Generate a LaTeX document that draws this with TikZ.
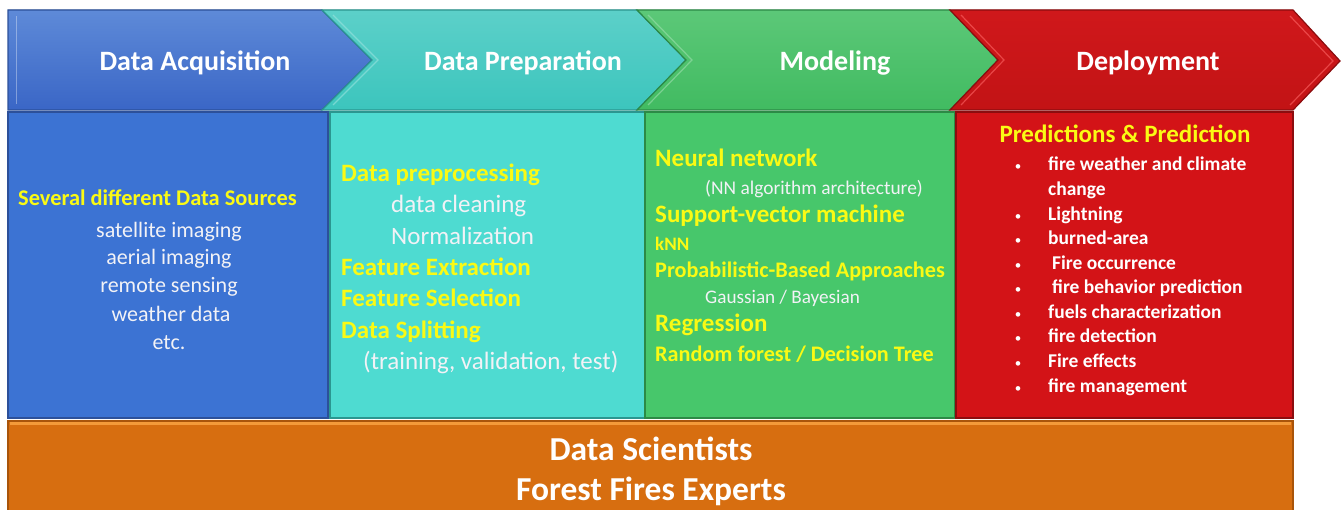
\documentclass[tikz,border=0pt]{standalone}
\usepackage{fontspec}
\setmainfont{Carlito}
\definecolor{blueTop}{HTML}{5E8AD8}
\definecolor{blueBot}{HTML}{3A66C6}
\definecolor{blueBox}{HTML}{3C73D3}
\definecolor{blueEdge}{HTML}{2C509A}
\definecolor{tealTop}{HTML}{5CD0C9}
\definecolor{tealBot}{HTML}{3CC5BD}
\definecolor{tealBox}{HTML}{4EDBD1}
\definecolor{tealEdge}{HTML}{2B9690}
\definecolor{greenTop}{HTML}{5CC878}
\definecolor{greenBot}{HTML}{41BB61}
\definecolor{greenBox}{HTML}{47C76B}
\definecolor{greenEdge}{HTML}{2C8A46}
\definecolor{redTop}{HTML}{D0181B}
\definecolor{redBot}{HTML}{C21315}
\definecolor{redBox}{HTML}{D31317}
\definecolor{redEdge}{HTML}{8C0D0F}
\definecolor{orangeBox}{HTML}{D76E10}
\definecolor{orangeEdge}{HTML}{A9540A}
\definecolor{orangeLight}{HTML}{F39A3A}
\definecolor{hiYellow}{HTML}{FAFA14}
\definecolor{softWhite}{HTML}{F2F2F6}
\tikzset{
  chevron/.style={line width=1.2pt, line join=miter},
  panel/.style={line width=1.2pt},
  title/.style={font=\bfseries\fontsize{28}{28}\selectfont, text=white, inner sep=0pt},
  ylw/.style={font=\bfseries, text=hiYellow, inner sep=0pt, anchor=mid west},
  wht/.style={text=softWhite, inner sep=0pt, anchor=mid west},
  bul/.style={font=\bfseries\fontsize{19.5}{19.5}\selectfont, text=white, inner sep=0pt, anchor=mid west},
  dotmark/.style={font=\fontsize{13}{13}\selectfont, text=white, inner sep=0pt},
  team/.style={font=\bfseries\fontsize{33.5}{33.5}\selectfont, text=white, inner sep=0pt}
}
\begin{document}
\begin{tikzpicture}[x=1pt,y=-1pt]
\useasboundingbox (0,0) rectangle (1342,510);

% process chevrons
\filldraw[chevron, draw=blueEdge, top color=blueTop, bottom color=blueBot]
  (8,10) -- (322,10) -- (372,60) -- (322,110) -- (8,110) -- cycle;
\filldraw[chevron, draw=tealEdge, top color=tealTop, bottom color=tealBot]
  (322,10) -- (637,10) -- (686,60) -- (637,110) -- (322,110) -- (372,60) -- cycle;
\filldraw[chevron, draw=greenEdge, top color=greenTop, bottom color=greenBot]
  (637,10) -- (950,10) -- (998,60) -- (950,110) -- (637,110) -- (686,60) -- cycle;
\filldraw[chevron, draw=redEdge, top color=redTop, bottom color=redBot]
  (950,10) -- (1293,10) -- (1340,61) -- (1293,110) -- (950,110) -- (998,60) -- cycle;
% bevel highlights
\draw[white, opacity=0.35, line width=1pt] (16,16) -- (16,104);
\draw[tealTop!60!white, opacity=0.6, line width=1.2pt] (333,15) -- (378,60) -- (333,105);
\draw[greenTop!60!white, opacity=0.6, line width=1.2pt] (648,15) -- (692,60) -- (648,105);
\draw[red!60!white, opacity=0.6, line width=1.2pt] (961,15) -- (1004,60) -- (961,105);
\draw[red!60!white, opacity=0.6, line width=1.2pt] (1290,16) -- (1333,61) -- (1290,105);

\node[title] (tAcq)  at (195,63)  {Data Acquisition};
\node[title] (tPrep) at (523,63)  {Data Preparation};
\node[title] (tMod)  at (835,63)  {Modeling};
\node[title] (tDep)  at (1148,63) {Deployment};

% stage panels
\filldraw[panel, fill=blueBox,  draw=blueEdge]  (8,112)   rectangle (328,418);
\filldraw[panel, fill=tealBox,  draw=tealEdge]  (330,112) rectangle (645,418);
\filldraw[panel, fill=greenBox, draw=greenEdge] (645,112) rectangle (955,418);
\filldraw[panel, fill=redBox,   draw=redEdge]   (956,112) rectangle (1293,418);

\begin{scope}[shift={(0,6)}]
% data acquisition
\node[ylw, font=\bfseries\fontsize{22.4}{22.4}\selectfont] (acqHead) at (18,197) {Several different Data Sources};
\begin{scope}[every node/.style={text=softWhite, inner sep=0pt, font=\fontsize{22}{22}\selectfont}]
\node (acq1) at (169,226) {satellite imaging};
\node (acq2) at (169,253) {aerial imaging};
\node (acq3) at (169,281) {remote sensing};
\node (acq4) at (171,308) {weather data};
\node (acq5) at (169,337) {etc.};
\end{scope}

% data preparation
\node[ylw, font=\bfseries\fontsize{25}{25}\selectfont] (prep1) at (341,173) {Data preprocessing};
\node[wht, font=\fontsize{25}{25}\selectfont] (prep2) at (391,204) {data cleaning};
\node[wht, font=\fontsize{25}{25}\selectfont] (prep3) at (391,236) {Normalization};
\node[ylw, font=\bfseries\fontsize{25}{25}\selectfont] (prep4) at (341,267) {Feature Extraction};
\node[ylw, font=\bfseries\fontsize{25}{25}\selectfont] (prep5) at (341,298) {Feature Selection};
\node[ylw, font=\bfseries\fontsize{25}{25}\selectfont] (prep6) at (341,330) {Data Splitting};
\node[wht, font=\fontsize{25}{25}\selectfont] (prep7) at (363,361) {(training, validation, test)};

% modeling
\node[ylw, font=\bfseries\fontsize{25}{25}\selectfont] (mod1) at (655,158) {Neural network};
\node[wht, font=\fontsize{19.4}{19.4}\selectfont] (mod2) at (705,186) {(NN algorithm architecture)};
\node[ylw, font=\bfseries\fontsize{25}{25}\selectfont] (mod3) at (655,214) {Support-vector machine};
\node[ylw, font=\bfseries\fontsize{19}{19}\selectfont] (mod4) at (655,242) {kNN};
\node[ylw, font=\bfseries\fontsize{22.2}{22.2}\selectfont] (mod5) at (655,269) {Probabilistic-Based Approaches};
\node[wht, font=\fontsize{19.2}{19.2}\selectfont] (mod6) at (705,295) {Gaussian / Bayesian};
\node[ylw, font=\bfseries\fontsize{25}{25}\selectfont] (mod7) at (655,323) {Regression};
\node[ylw, font=\bfseries\fontsize{22.2}{22.2}\selectfont] (mod8) at (655,353) {Random forest / Decision Tree};

% deployment
\node[ylw, font=\bfseries\fontsize{25}{25}\selectfont, anchor=mid] (depHead) at (1125,134) {Predictions \& Prediction};
\foreach \i/\yy/\xx/\txt in {1/162/1048/fire weather and climate,
    3/212/1048/Lightning, 4/236/1048/burned-area, 5/261/1052/Fire occurrence,
    6/285/1052/fire behavior prediction, 7/310/1048/fuels characterization,
    8/334/1048/fire detection, 9/359/1048/Fire effects, 10/384/1048/fire management}{
  \node[dotmark] (dot\i) at (1018,\yy) {•};
  \node[bul] (dep\i) at (\xx,\yy) {\txt};
}
\node[bul] (dep2) at (1048,187) {change};
\end{scope}

% people
\filldraw[panel, fill=orangeBox, draw=orangeEdge] (8,421) rectangle (1293,512);
\draw[orangeLight, line width=2.5pt] (10,423.5) -- (1291,423.5);
\node[team] (sci) at (651,449) {Data Scientists};
\node[team] (exp) at (651,491) {Forest Fires Experts};
\end{tikzpicture}
\end{document}
